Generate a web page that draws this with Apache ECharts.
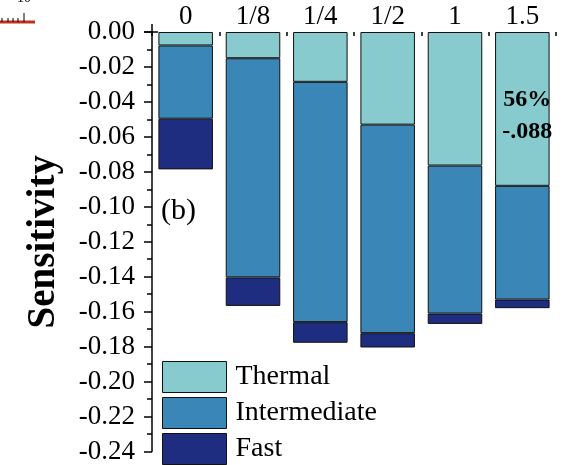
<!DOCTYPE html>
<html><head><meta charset="utf-8">
<script src="https://cdn.jsdelivr.net/npm/echarts@6/dist/echarts.min.js"></script>
<style>html,body{margin:0;padding:0;background:#fff}#c{width:569px;height:465px}</style>
</head><body><div id="c"></div>
<script>
const categories = ['0', '1/8', '1/4', '1/2', '1', '1.5'];
const thermal = [-0.0077, -0.0150, -0.0285, -0.0530, -0.0764, -0.0880];
const intermediate = [-0.0419, -0.1254, -0.1375, -0.1193, -0.0847, -0.0651];
const fast = [-0.0290, -0.0163, -0.0118, -0.0082, -0.0059, -0.0049];
const yTicks = { min: -0.24, max: 0, interval: 0.02 };
const seriesNames = ['Thermal', 'Intermediate', 'Fast'];

const FONT = '"Liberation Serif", "Times New Roman", serif';
const colors = ['#87CBCF', '#3A86B7', '#1E2D80'];
const chart = echarts.init(document.getElementById('c'), null, { renderer: 'canvas' });
const mk = (name, data, color, extra) => Object.assign({
  name, type: 'bar', stack: 'total', data, barWidth: '81%',
  itemStyle: { color, borderColor: '#111', borderWidth: 1 },
  emphasis: { disabled: true }
}, extra || {});

chart.setOption({
  animation: false,
  backgroundColor: '#fff',
  grid: { left: 152, right: 13, top: 32, bottom: 12, containLabel: false },
  legend: {
    orient: 'vertical', left: 162, top: 361, itemWidth: 64, itemHeight: 31, itemGap: 4,
    padding: 0, height: 110,
    icon: 'rect', data: seriesNames,
    textStyle: { fontFamily: FONT, fontSize: 28, color: '#000', padding: [0, 0, 0, 4] },
    itemStyle: { borderColor: '#111', borderWidth: 1 }
  },
  xAxis: {
    type: 'category', data: categories, position: 'top',
    axisLine: { show: false },
    axisTick: { show: true, inside: true, length: 4, lineStyle: { color: '#000', width: 1.5 } },
    axisLabel: { fontFamily: FONT, fontSize: 27, color: '#000', margin: 2 },
    splitLine: { show: false }
  },
  yAxis: {
    type: 'value', min: yTicks.min, max: yTicks.max, interval: yTicks.interval,
    name: 'Sensitivity', nameLocation: 'middle', nameRotate: 90, nameGap: 89,
    nameTextStyle: { fontFamily: FONT, fontSize: 39, fontWeight: 'bold', color: '#000' },
    axisLine: { show: true, lineStyle: { color: '#000', width: 1.5 } },
    axisTick: { show: true, length: 8, lineStyle: { color: '#000', width: 1.5 } },
    minorTick: { show: true, splitNumber: 2, length: 5, lineStyle: { color: '#000', width: 1.5 } },
    axisLabel: { fontFamily: FONT, fontSize: 27, color: '#000', margin: 17,
      formatter: v => v.toFixed(2) },
    splitLine: { show: false }
  },
  series: [
    mk(seriesNames[0], thermal.map((v, i) => i === 5 ? {
      value: v,
      label: { show: true, position: 'inside', offset: [5, 7], formatter: '56%\n-.088',
        fontFamily: FONT, fontSize: 24, fontWeight: 'bold', color: '#000', lineHeight: 32 }
    } : v), colors[0]),
    mk(seriesNames[1], intermediate, colors[1]),
    mk(seriesNames[2], fast, colors[2])
  ],
  graphic: [
    { type: 'line', shape: { x1: 152, y1: 24, x2: 152, y2: 32 }, style: { stroke: '#000', lineWidth: 1.5 } },
    { type: 'line', shape: { x1: 144, y1: 32, x2: 158, y2: 32 }, style: { stroke: '#000', lineWidth: 1.5 } },
    { type: 'text', left: 161, top: 196, style: { text: '(b)', font: '30px ' + FONT, fill: '#000' } },
    { type: 'line', shape: { x1: 0, y1: 22, x2: 35, y2: 22 }, style: { stroke: '#c0321e', lineWidth: 3 } },
    { type: 'line', shape: { x1: 24, y1: 13, x2: 24, y2: 22 }, style: { stroke: '#000', lineWidth: 1 } },
    { type: 'line', shape: { x1: 2, y1: 18, x2: 2, y2: 22 }, style: { stroke: '#000', lineWidth: 1 } },
    { type: 'line', shape: { x1: 8, y1: 18, x2: 8, y2: 22 }, style: { stroke: '#000', lineWidth: 1 } },
    { type: 'line', shape: { x1: 13, y1: 18, x2: 13, y2: 22 }, style: { stroke: '#000', lineWidth: 1 } },
    { type: 'line', shape: { x1: 18, y1: 18, x2: 18, y2: 22 }, style: { stroke: '#000', lineWidth: 1 } },
    { type: 'text', left: 17, top: -9, style: { text: '10', font: '14px ' + FONT, fill: '#000' } }
  ]
});
</script></body></html>
